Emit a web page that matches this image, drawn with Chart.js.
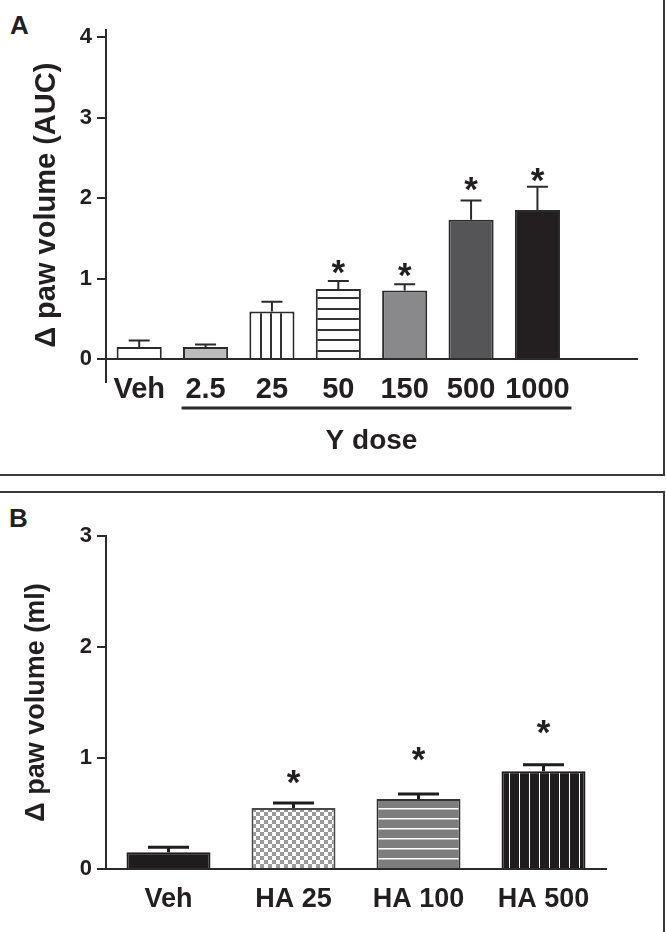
<!DOCTYPE html>
<html>
<head>
<meta charset="utf-8">
<script src="https://cdn.jsdelivr.net/npm/chart.js@4/dist/chart.umd.min.js"></script>
<style>
  body { margin: 0; background: #fff; width: 666px; height: 932px; overflow: hidden; position: relative; }
  .box { position: absolute; box-sizing: border-box; border: 2px solid #3a3a3a; }
  .tag { position: absolute; font: bold 26px 'Liberation Sans', Arial, sans-serif; line-height: 26px; color: #231f20; }
  canvas { position: absolute; left: 0; }
</style>
</head>
<body>
<div class="box" style="left:-3px; top:-3px; width:668px; height:479px;"></div>
<div class="box" style="left:-3px; top:491px; width:668px; height:460px;"></div>
<div class="tag" style="left:10px; top:12px;">A</div>
<div class="tag" style="left:9px; top:505px;">B</div>
<canvas id="chartA" width="666" height="475" style="top:0"></canvas>
<canvas id="chartB" width="666" height="440" style="top:492px"></canvas>
<script>
'use strict';

// panel A : Y dose
const labelsA = ['Veh', '2.5', '25', '50', '150', '500', '1000', ''];
const meansA = [0.15, 0.15, 0.59, 0.87, 0.85, 1.73, 1.85, null];
const semA = [0.08, 0.03, 0.12, 0.10, 0.08, 0.24, 0.29, null];
const starsA = [null, null, null, 1.17, 1.13, 2.20, 2.31, null];

// panel B : HA
const labelsB = ['Veh', 'HA 25', 'HA 100', 'HA 500'];
const meansB = [0.15, 0.55, 0.63, 0.88];
const semB = [0.045, 0.045, 0.045, 0.06];
const starsB = [null, 0.85, 1.05, 1.30];

const FONT = "'Liberation Sans', Arial, sans-serif";
const INK = '#231f20';

function makePattern(w, h, draw) {
    const c = document.createElement('canvas');
    c.width = w;
    c.height = h;
    const g = c.getContext('2d');
    draw(g, w, h);
    return g.createPattern(c, 'repeat');
}

// 3 thin verticals inside the "25" bar
const vLinesA = makePattern(50, 10, (g, w, h) => {
    g.fillStyle = '#fff'; g.fillRect(0, 0, w, h);
    g.fillStyle = '#333';
    g.fillRect(10, 0, 2, h); g.fillRect(20, 0, 2, h); g.fillRect(30, 0, 2, h);
});
const hLinesA = makePattern(10, 21, (g, w, h) => {
    g.fillStyle = '#fff'; g.fillRect(0, 0, w, h);
    g.fillStyle = '#333'; g.fillRect(0, 3, w, 2); g.fillRect(0, 14, w, 2);
});
const checkerB = makePattern(8, 8, (g, w, h) => {
    g.fillStyle = '#fff'; g.fillRect(0, 0, w, h);
    g.fillStyle = '#9a9a9a'; g.fillRect(0, 0, 4, 4); g.fillRect(4, 4, 4, 4);
});
const hLinesB = makePattern(10, 10, (g, w, h) => {
    g.fillStyle = '#7d7d7d'; g.fillRect(0, 0, w, h);
    g.fillStyle = '#fff'; g.fillRect(0, 6, w, 1.5);
});
const vLinesB = makePattern(10, 10, (g, w, h) => {
    g.fillStyle = '#1e1c1d'; g.fillRect(0, 0, w, h);
    g.fillStyle = '#fff'; g.fillRect(9, 0, 1.5, h);
});

// error bars, asterisks and the extra axis bits
const extras = {
    id: 'extras',
    afterDatasetsDraw(chart, args, o) {
        const {ctx, chartArea} = chart;
        const x = chart.scales.x, y = chart.scales.y;
        ctx.save();
        ctx.strokeStyle = o.color;
        ctx.fillStyle = INK;
        ctx.lineWidth = o.errWidth;
        o.means.forEach((m, i) => {
            if (m == null) return;
            const px = x.getPixelForValue(i);
            const y0 = y.getPixelForValue(m);
            const y1 = y.getPixelForValue(m + o.sem[i]);
            ctx.beginPath();
            ctx.moveTo(px, y0);
            ctx.lineTo(px, y1);
            ctx.moveTo(px - o.cap, y1);
            ctx.lineTo(px + o.cap, y1);
            ctx.stroke();
            if (o.stars[i] != null) {
                ctx.font = 'bold 35px ' + FONT;
                ctx.textAlign = 'center';
                ctx.textBaseline = 'alphabetic';
                ctx.fillText('*', px, y.getPixelForValue(o.stars[i]) + 19);
            }
        });
        ctx.lineWidth = 2;
        ctx.strokeStyle = '#2b2b2b';
        if (o.yLine) {
            ctx.beginPath();
            ctx.moveTo(chartArea.left, y.getPixelForValue(y.max) - 8);
            ctx.lineTo(chartArea.left, chartArea.bottom + 24);
            ctx.stroke();
        }
        if (o.underline) {
            ctx.lineWidth = 3;
            ctx.beginPath();
            const uy = chartArea.bottom + 49;
            ctx.moveTo(x.getPixelForValue(1) - 24, uy);
            ctx.lineTo(x.getPixelForValue(6) + 34, uy);
            ctx.stroke();
        }
        ctx.restore();
    }
};

function yScale(max, width, title, titleSize, titlePad, border) {
    return {
        min: 0,
        max: max,
        afterFit(scale) { scale.width = width; },
        ticks: { stepSize: 1, padding: 5, color: INK, font: { family: FONT, size: 22, weight: 'bold' } },
        grid: { drawOnChartArea: false, tickLength: 9, color: '#2b2b2b', lineWidth: 2 },
        border: { display: border, color: '#2b2b2b', width: 2 },
        title: {
            display: true, text: title, color: INK,
            padding: { top: titlePad, bottom: 0 },
            font: { family: FONT, size: titleSize, weight: 'bold' }
        }
    };
}

const chartA = new Chart('chartA', {
    type: 'bar',
    data: {
        labels: labelsA,
        datasets: [{
            data: meansA,
            backgroundColor: ['#fff', '#bcbcbc', vLinesA, hLinesA, '#89898b', '#555557', '#231f20', '#fff'],
            borderColor: '#2b2b2b',
            borderWidth: 2,
            categoryPercentage: 1,
            barPercentage: 0.68
        }]
    },
    options: {
        responsive: false,
        animation: false,
        devicePixelRatio: 1,
        layout: { padding: { left: 0, top: 37, right: 29, bottom: 0 } },
        plugins: {
            legend: { display: false },
            tooltip: { enabled: false },
            extras: { means: meansA, sem: semA, stars: starsA, color: '#2b2b2b', errWidth: 2, cap: 10.5, yLine: true, underline: true }
        },
        scales: {
            x: {
                afterFit(scale) { scale.height = 116; },
                grid: { display: false, drawTicks: false },
                border: { display: true, color: '#2b2b2b', width: 2 },
                ticks: { padding: 14, maxRotation: 0, autoSkip: false, color: INK, font: { family: FONT, size: 29, weight: 'bold' } },
                title: {
                    display: true, text: 'Y dose', color: INK,
                    padding: { top: 0, bottom: 17 },
                    font: { family: FONT, size: 28, weight: 'bold' }
                }
            },
            y: yScale(4, 106, '\u0394 paw volume (AUC)\u2002', 29, 30, false)
        }
    },
    plugins: [extras]
});

const chartB = new Chart('chartB', {
    type: 'bar',
    data: {
        labels: labelsB,
        datasets: [{
            data: meansB,
            backgroundColor: ['#1e1c1d', checkerB, hLinesB, vLinesB],
            borderColor: ['#1e1c1d', '#4a4a4a', '#333', '#1e1c1d'],
            borderWidth: 2,
            categoryPercentage: 1,
            barPercentage: 0.672
        }]
    },
    options: {
        responsive: false,
        animation: false,
        devicePixelRatio: 1,
        layout: { padding: { left: 0, top: 44, right: 60, bottom: 0 } },
        plugins: {
            legend: { display: false },
            tooltip: { enabled: false },
            extras: { means: meansB, sem: semB, stars: starsB, color: '#1e1c1d', errWidth: 3, cap: 20.5, yLine: false, underline: false }
        },
        scales: {
            x: {
                afterFit(scale) { scale.height = 63; },
                grid: { display: false, drawTicks: false },
                border: { display: true, color: '#2b2b2b', width: 2 },
                ticks: { padding: 14, maxRotation: 0, autoSkip: false, color: INK, font: { family: FONT, size: 27, weight: 'bold' } }
            },
            y: yScale(3, 106, '\u0394 paw volume (ml)', 27, 20, true)
        }
    },
    plugins: [extras]
});
</script>
</body>
</html>
